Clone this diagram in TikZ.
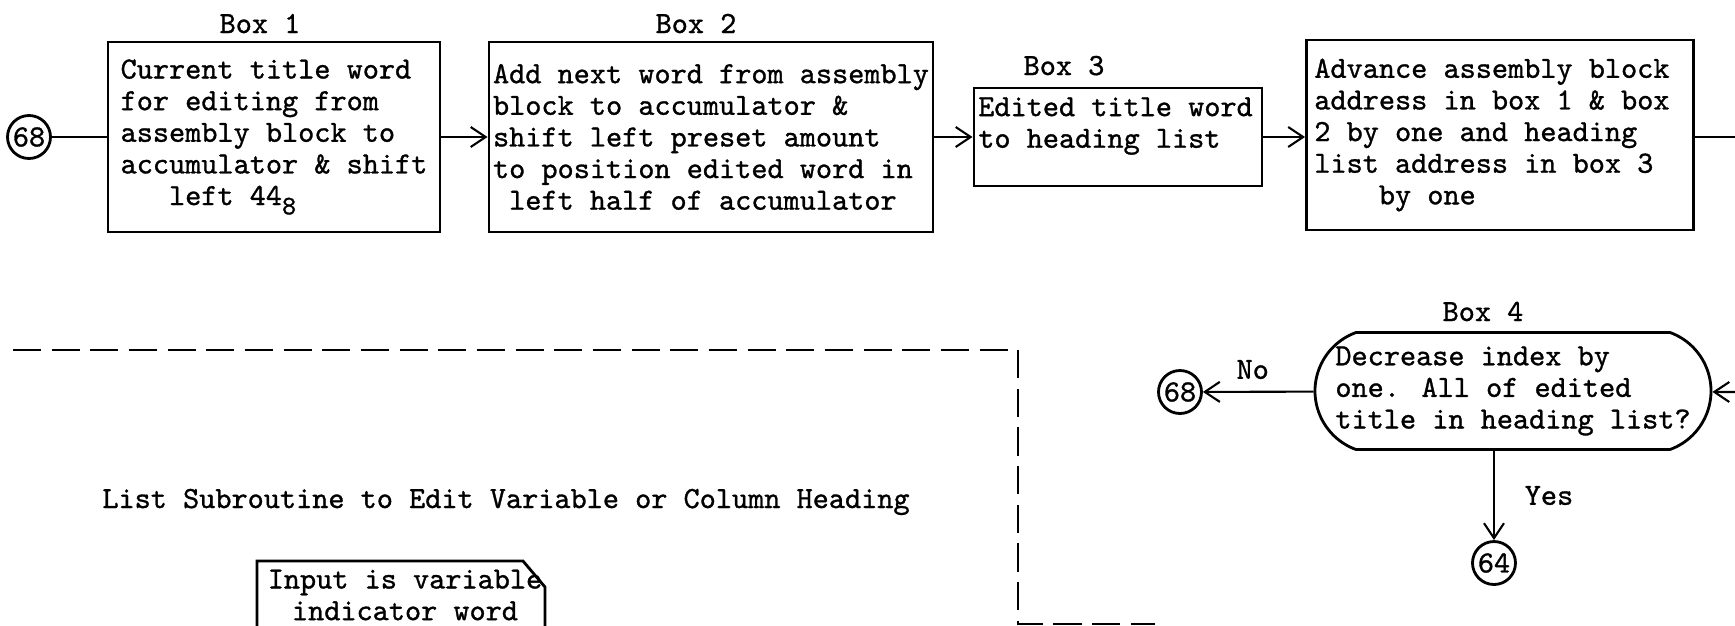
\documentclass[tikz,border=0pt]{standalone}
\usepackage{fontspec}
\usetikzlibrary{arrows.meta,shapes.misc}
\newfontfamily\typw{lmmono10-regular.otf}[FakeBold=1]
\newcommand\boxfont{\typw\fontsize{8.75}{9}\selectfont}

\begin{document}
\begin{tikzpicture}[x=0.1mm,y=-0.1mm,
    every node/.style={font=\boxfont},
    caja/.style={draw, thick, align=left, inner sep=0pt, minimum height=19mm},
    conector/.style={draw, thick, circle, inner sep=0pt, minimum size=4.3mm},
    flecha/.style={semithick, -{Straight Barb[length=1.5mm,width=2mm]}},
    linea/.style={semithick}]

    % Marco de la figura (1735 x 625)
    \useasboundingbox (0,0) rectangle (1735,625);
    \clip (0,0) rectangle (1735,625);

    % Fila superior: cajas 1, 2, 3 y caja de avance
    \node[caja, minimum width=33.2mm] (b1) at (274,137)
        {Current title word\\for editing from\\assembly block to\\accumulator \& shift\\\phantom{000}left 44\raisebox{-.7ex}{\fontsize{7.6}{9}\selectfont 8}};
    \node[caja, minimum width=44.4mm] (b2) at (711,137)
        {Add next word from assembly\\block to accumulator \&\\shift left preset amount\\to position edited word in\\\phantom{0}left half of accumulator};
    \node[caja, minimum width=28.8mm, minimum height=9.8mm] (b3) at (1118,137) {};
    \node[anchor=north west, align=left, inner sep=0pt] (b3t) at ([shift={(5,10)}]b3.north west)
        {Edited title word\\to heading list};
    \node[caja, minimum width=38.7mm] (b5) at (1500,135)
        {Advance assembly block\phantom{0}\\address in box 1 \& box\\2 by one and heading\\list address in box 3\\\phantom{0000}by one};

    % Rotulos de las cajas
    \node[anchor=base] (t1) at (260,33) {Box 1};
    \node[anchor=base] (t2) at (696,33) {Box 2};
    \node[anchor=base] (t3) at (1064,75) {Box 3};
    \node[anchor=base] (t4) at (1483,321) {Box 4};

    % Conector de entrada y flechas de la fila superior
    \node[conector] (c68a) at (29,137) {68};
    \coordinate (sal) at (1735,137);
    \draw[linea] (c68a) -- (b1);
    \draw[flecha] (b1) -- (b2);
    \draw[flecha] (b2) -- (b3);
    \draw[flecha] (b3) -- (b3 -| b5.west);
    \draw[linea] (b5.east |- sal) -- (sal);

    % Decision (Box 4) con sus salidas
    \node[draw, thick, rounded rectangle, rounded rectangle arc length=140,
          minimum width=39.6mm, minimum height=11.7mm, align=left, inner sep=0pt] (b4) at (1513,391)
        {Decrease index by\\one. All of edited\\title in heading list?};
    \coordinate (ent) at (1735,392);
    \node[conector] (c68b) at (1180,392) {68};
    \node[conector] (c64) at (1494,563) {64};
    \draw[flecha] (ent) -- (b4);
    \draw[flecha] (b4) -- node[pos=0.55, above] (no) {No} (c68b);
    \draw[flecha] (c64 |- b4.south) -- node[right=1.8mm] (si) {Yes} (c64);

    % Marco discontinuo de la subrutina
    \draw[semithick, dash pattern=on 8pt off 3pt] (13,350) -| (1018,624) -- (1155,624);
    \node[anchor=base] (tit) at (506,508) {List Subroutine to Edit Variable or Column Heading};

    % Tarjeta de entrada (esquina cortada)
    \node[anchor=north, align=center, inner sep=0pt] (inp) at (405,569) {Input is variable\\indicator word};
    \draw[thick] (257,660) -- (257,561) -- (523,561) -- (545,587) -- (545,660);
\end{tikzpicture}
\end{document}
